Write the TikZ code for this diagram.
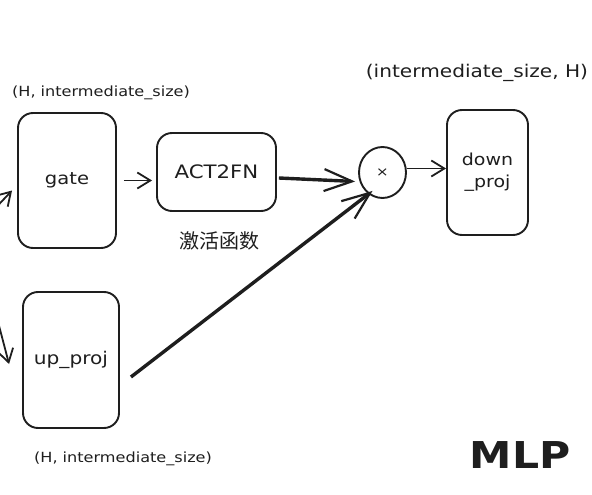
\documentclass[tikz,border=0pt]{standalone}
\usepackage{fontspec}
\setmainfont[FakeStretch=1.15]{DejaVu Sans}
\newfontfamily\cjk{Noto Sans CJK SC}
\usetikzlibrary{arrows.meta,shapes.geometric}
\definecolor{ink}{HTML}{1E1E1E}
\begin{document}
\begin{tikzpicture}[x=1pt,y=-1pt,color=ink,
  box/.style={draw,line width=1.9pt,rounded corners=15pt,inner sep=0pt,font=\fontsize{17}{21}\selectfont,align=center},
  arr/.style={line width=1.8pt,-{Straight Barb[length=13pt,width=16pt,line width=1.8pt]}},
  thickarr/.style={line width=3.4pt,-{Straight Barb[length=28pt,width=22pt,line width=2.2pt]}},
  lbl/.style={font=\fontsize{14}{16}\selectfont,inner sep=0pt}]
\useasboundingbox (0,0) rectangle (592,495);
\node[box,minimum width=98pt,minimum height=135pt] (gate) at (67,180.5) {gate};
\node[box,minimum width=119pt,minimum height=78pt,font=\fontsize{18.5}{20}\selectfont] (act) at (216.5,172) {ACT2FN};
\node[draw,line width=1.9pt,ellipse,minimum width=47pt,minimum height=51pt,inner sep=0pt,font=\fontsize{13}{14}\selectfont] (mul) at (382.5,172.5) {×};
\node[box,minimum width=81pt,minimum height=125pt,font=\fontsize{16.5}{22}\selectfont] (down) at (487.5,172.5) {down\\\_proj};
\node[box,minimum width=96pt,minimum height=136pt,font=\fontsize{17.5}{21}\selectfont] (up) at (71,360) {up\_proj};
\node[lbl] (lgate) at (101,93) {(H, intermediate\_size)};
\node[lbl,font=\fontsize{17.5}{20}\selectfont] (ldown) at (477,73) {(intermediate\_size, H)};
\node[lbl] (lup) at (123,459) {(H, intermediate\_size)};
\node[inner sep=0pt,font=\cjk\fontsize{20}{22}\selectfont] (lact) at (219,241) {激活函数};
\node[inner sep=0pt,font=\fontsize{37}{40}\selectfont\bfseries] (title) at (520,455) {MLP};
\coordinate (gin) at (-14,218);
\coordinate (uin) at (-3,318);
\draw[arr] (gin) -- ([shift={(-5,10)}]gate.west);
\draw[arr] (uin) -- ([shift={(-13,4)}]up.west);
\draw[arr,shorten <=7pt,shorten >=4pt] (gate.east) -- (act.west |- gate.east);
\draw[thickarr] ([shift={(2,6)}]act.east) -- ([shift={(-3,9)}]mul.west);
\draw[thickarr] ([shift={(11,17)}]up.east) -- ([shift={(-10,-8)}]mul.south);
\draw[arr] ([shift={(0,-4)}]mul.east) -- ([shift={(0,-4)}]down.west);
\end{tikzpicture}
\end{document}
